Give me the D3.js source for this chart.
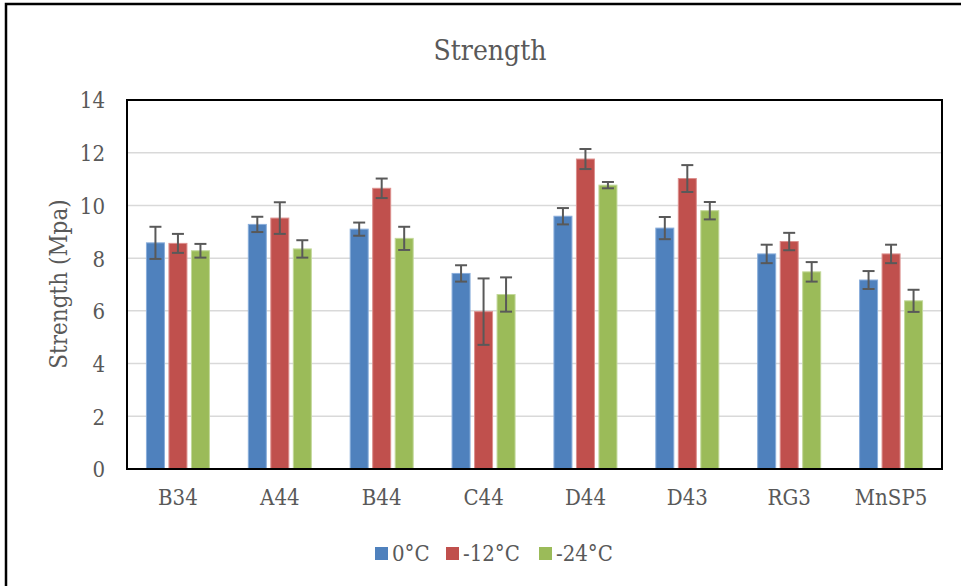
<!DOCTYPE html>
<html>
<head>
<meta charset="utf-8">
<script src="https://cdn.jsdelivr.net/npm/d3@7"></script>
<style>
body{margin:0;background:#fff;}
svg text{font-family:"DejaVu Serif Condensed","DejaVu Serif",serif;font-stretch:condensed;fill:#595959;}
</style>
</head>
<body>
<svg id="chart" width="961" height="586"></svg>
<script>
// data
var categories = ["B34","A44","B44","C44","D44","D43","RG3","MnSP5"];
var seriesNames = ["0°C","-12°C","-24°C"];
var seriesColors = ["#4F81BD","#C0504D","#9BBB59"];
var edgeColors = ["#8aaedb","#dc8f8d","#c2d89a"];
var v0 = [8.58,9.28,9.10,7.42,9.59,9.14,8.16,7.17];
var v12 = [8.56,9.52,10.65,5.97,11.76,11.02,8.63,8.16];
var v24 = [8.28,8.35,8.75,6.62,10.77,9.80,7.48,6.38];
var e0 = [0.61,0.29,0.25,0.31,0.31,0.42,0.35,0.34];
var e12 = [0.36,0.60,0.37,1.26,0.38,0.51,0.33,0.35];
var e24 = [0.26,0.33,0.44,0.65,0.12,0.33,0.37,0.42];
var yTicks = [0,2,4,6,8,10,12,14];

var values = [v0,v12,v24];
var errors = [e0,e12,e24];

var svg = d3.select("#chart");

// outer frame (right and bottom edges fall outside the picture)
svg.append("rect")
	.attr("x",6).attr("y",4)
	.attr("width",1000).attr("height",700)
	.attr("fill","none").attr("stroke","#000").attr("stroke-width",2.5);

var plotL = 127, plotR = 942, plotT = 100, plotB = 469;

var x = d3.scaleBand().domain(categories).range([plotL,plotR]).padding(0);
var xs = d3.scaleBand().domain(d3.range(3)).range([-31.5,31.5]).paddingInner(0.2).paddingOuter(0);
var y = d3.scaleLinear().domain([0,14]).range([plotB,plotT]);

// gridlines
svg.append("g")
	.selectAll("line")
	.data(yTicks.filter(function(d){return d>0 && d<14;}))
	.enter()
	.append("line")
	.attr("x1",plotL).attr("x2",plotR)
	.attr("y1",function(d){return y(d);})
	.attr("y2",function(d){return y(d);})
	.attr("stroke","#d9d9d9").attr("stroke-width",1.5);

// y axis labels
var yAxis = svg.append("g")
	.attr("transform","translate("+(plotL-22)+",0)")
	.call(d3.axisLeft(y).tickValues(yTicks).tickSize(0).tickPadding(0));
yAxis.select(".domain").remove();
yAxis.selectAll("text").style("font-size","22px").attr("dy","0.36em");

// x axis labels
var xAxis = svg.append("g")
	.attr("transform","translate("+0+","+plotB+")")
	.call(d3.axisBottom(x).tickSize(0).tickPadding(20));
xAxis.select(".domain").remove();
xAxis.selectAll("text").style("font-size","22px").attr("dy","0.71em");

// bars
var groups = svg.append("g")
	.selectAll("g")
	.data(categories)
	.enter()
	.append("g")
	.attr("transform",function(d){return "translate("+(x(d)+x.bandwidth()/2)+",0)";});

groups.each(function(c,ci){
	var g = d3.select(this);
	g.selectAll("rect")
		.data(d3.range(3))
		.enter()
		.append("rect")
		.attr("x",function(s){return xs(s);})
		.attr("width",xs.bandwidth())
		.attr("y",function(s){return y(values[s][ci]);})
		.attr("height",function(s){return plotB-y(values[s][ci]);})
		.attr("fill",function(s){return seriesColors[s];})
		.attr("stroke",function(s){return edgeColors[s];})
		.attr("stroke-width",1);

	// error bars
	var eb = g.selectAll("g.err")
		.data(d3.range(3))
		.enter()
		.append("g")
		.attr("class","err")
		.attr("stroke","#595959").attr("stroke-width",2);
	eb.append("line")
		.attr("x1",function(s){return xs(s)+xs.bandwidth()/2;})
		.attr("x2",function(s){return xs(s)+xs.bandwidth()/2;})
		.attr("y1",function(s){return y(values[s][ci]+errors[s][ci]);})
		.attr("y2",function(s){return y(values[s][ci]-errors[s][ci]);});
	eb.append("line")
		.attr("x1",function(s){return xs(s)+xs.bandwidth()/2-6;})
		.attr("x2",function(s){return xs(s)+xs.bandwidth()/2+6;})
		.attr("y1",function(s){return y(values[s][ci]+errors[s][ci]);})
		.attr("y2",function(s){return y(values[s][ci]+errors[s][ci]);});
	eb.append("line")
		.attr("x1",function(s){return xs(s)+xs.bandwidth()/2-6;})
		.attr("x2",function(s){return xs(s)+xs.bandwidth()/2+6;})
		.attr("y1",function(s){return y(values[s][ci]-errors[s][ci]);})
		.attr("y2",function(s){return y(values[s][ci]-errors[s][ci]);});
});

// plot border
svg.append("rect")
	.attr("x",plotL).attr("y",plotT)
	.attr("width",plotR-plotL).attr("height",plotB-plotT)
	.attr("fill","none").attr("stroke","#000").attr("stroke-width",2);

// title
svg.append("text")
	.attr("x",490).attr("y",60)
	.attr("text-anchor","middle")
	.style("font-size","28px")
	.text("Strength");

// y axis title
svg.append("text")
	.attr("transform","translate(67,284) rotate(-90)")
	.attr("text-anchor","middle")
	.style("font-size","24px")
	.text("Strength (Mpa)");

// legend
var legendX = [375,446,539];
var legend = svg.append("g")
	.selectAll("g")
	.data(seriesNames)
	.enter()
	.append("g")
	.attr("transform",function(d,i){return "translate("+legendX[i]+",547)";});
legend.append("rect")
	.attr("width",13).attr("height",13)
	.attr("fill",function(d,i){return seriesColors[i];});
legend.append("text")
	.attr("x",17).attr("y",14)
	.style("font-size","22px")
	.text(function(d){return d;});
</script>
</body>
</html>
